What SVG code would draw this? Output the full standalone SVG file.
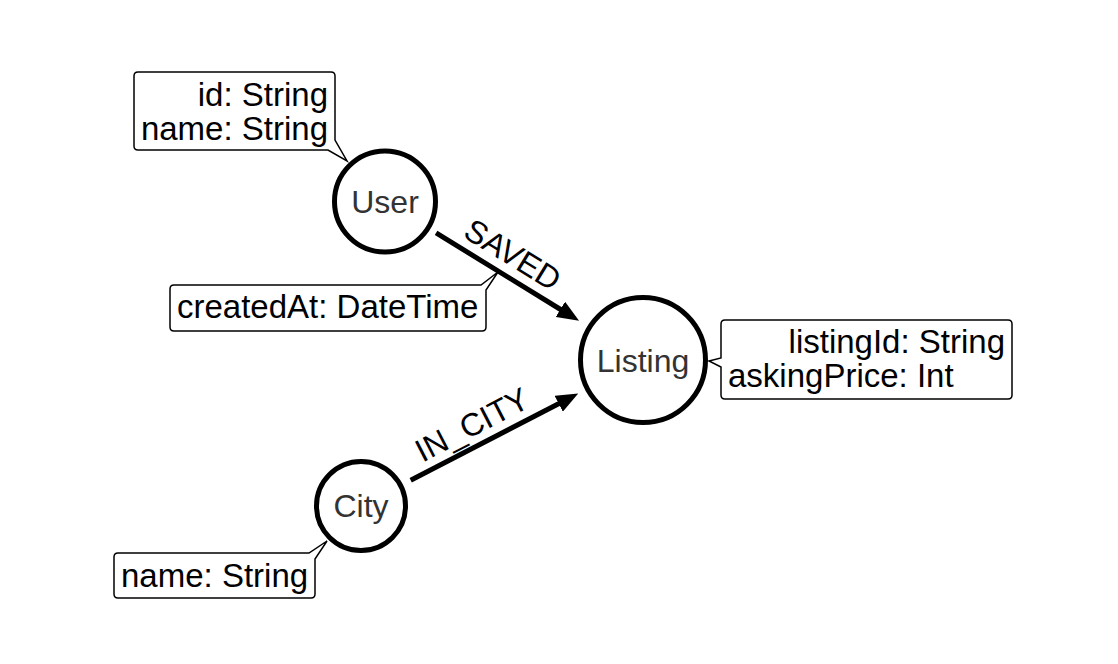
<svg xmlns="http://www.w3.org/2000/svg" width="1118" height="664" viewBox="0 0 1118 664">
<style>
.node{fill:#fff;stroke:#000;stroke-width:5}
.nlabel{font-family:"Liberation Sans",Arial,sans-serif;font-size:32px;fill:#333;text-anchor:middle}
.edge{stroke:#000;stroke-width:5;fill:none;marker-end:url(#arrow)}
.elabel{font-family:"Liberation Sans",Arial,sans-serif;font-size:32px;fill:#000;text-anchor:middle}
.callout{fill:#fff;stroke:#000;stroke-width:1.5;stroke-linejoin:miter}
.ctext{font-family:"Liberation Sans",Arial,sans-serif;font-size:33px;fill:#000}
</style>
<defs>
<marker id="arrow" viewBox="0 0 22 18" refX="7" refY="9" markerWidth="22" markerHeight="18" markerUnits="userSpaceOnUse" orient="auto">
<path d="M0,0 L22,9 L0,18 Z" fill="#000"/>
</marker>
</defs>
<rect width="1118" height="664" fill="#fff"/>
<g id="connectors">
<g id="edge-saved">
<line class="edge" x1="436.1" y1="232.9" x2="566.3" y2="313"/>
<text class="elabel" transform="translate(507,264) rotate(31.55)">SAVED</text>
</g>
<g id="edge-in-city">
<line class="edge" x1="410.7" y1="480.2" x2="564.9" y2="400.5"/>
<text class="elabel" transform="translate(477,434.5) rotate(-27.38)">IN_CITY</text>
</g>
</g>
<g id="user">
<circle class="node" cx="385" cy="201.5" r="50.5"/>
<text class="nlabel" x="385" y="213">User</text>
</g>
<g id="listing">
<circle class="node" cx="643" cy="360" r="62.5"/>
<text class="nlabel" x="643" y="371.5">Listing</text>
</g>
<g id="city">
<circle class="node" cx="361" cy="506" r="44.5"/>
<text class="nlabel" x="361" y="517">City</text>
</g>
<g id="user-props">
<path class="callout" d="M138,72 L331,72 Q335,72 335,76 L335,140 L347,161 L328,150 L138,150 Q134,150 134,146 L134,76 Q134,72 138,72 Z"/>
<text class="ctext" x="328" y="106" text-anchor="end">id: String</text>
<text class="ctext" x="328" y="140" text-anchor="end">name: String</text>
</g>
<g id="saved-props">
<path class="callout" d="M174,285 L481,285 L498,272 L486,290 L486,327 Q486,331 482,331 L174,331 Q170,331 170,327 L170,289 Q170,285 174,285 Z"/>
<text class="ctext" x="177" y="318">createdAt: DateTime</text>
</g>
<g id="listing-props">
<path class="callout" d="M725,320 L1008,320 Q1012,320 1012,324 L1012,395 Q1012,399 1008,399 L725,399 Q721,399 721,395 L721,367 L709,361 L721,358 L721,324 Q721,320 725,320 Z"/>
<text class="ctext" x="1005" y="353" text-anchor="end">listingId: String</text>
<text class="ctext" x="728" y="387">askingPrice: Int</text>
</g>
<g id="city-props">
<path class="callout" d="M118,553 L309,553 L327,541 L315,559 L315,594 Q315,598 311,598 L118,598 Q114,598 114,594 L114,557 Q114,553 118,553 Z"/>
<text class="ctext" x="121" y="587">name: String</text>
</g>
</svg>
